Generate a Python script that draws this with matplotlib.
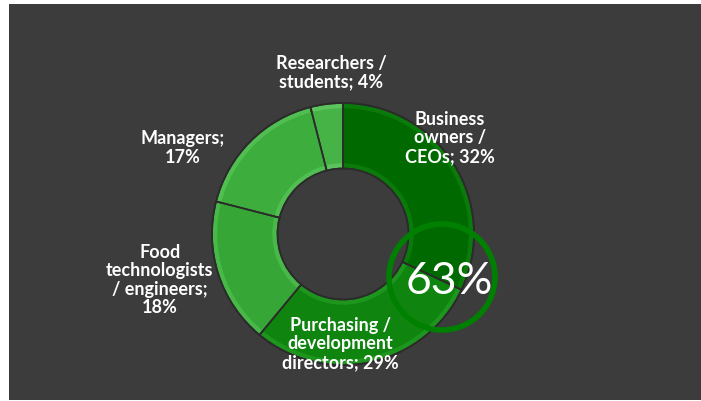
import matplotlib
matplotlib.use('Agg')
import matplotlib.pyplot as plt
from matplotlib.patches import Rectangle, Circle

# data
groups = ['Business owners / CEOs', 'Purchasing / development directors',
          'Food technologists / engineers', 'Managers', 'Researchers / students']
shares = [32, 29, 18, 17, 4]
label_text = ['Business\nowners /\nCEOs; 32%', 'Purchasing /\ndevelopment\ndirectors; 29%',
              'Food\ntechnologists\n/ engineers;\n18%', 'Managers;\n17%', 'Researchers /\nstudents; 4%']
colors = ['#006a00', '#0f840f', '#36a636', '#3dae3d', '#46b346']
rim_colors = ['#0a7a0a', '#1e961e', '#48b848', '#50be50', '#5cc45c']
highlight = '63%'

W, H = 701, 401
fig = plt.figure(figsize=(W / 100, H / 100), dpi=100)
fig.patch.set_facecolor('white')

# background panel (pixel coords)
bg = fig.add_axes([0, 0, 1, 1], zorder=0)
bg.set_xlim(0, W)
bg.set_ylim(H, 0)
bg.axis('off')
bg.add_patch(Rectangle((9, 4), W - 9, H - 5, facecolor='#3c3c3c', edgecolor='none'))

# donut: lighter rim underneath, flat face on top for a bevel look
cx, cy, R = 343, 234, 131
ax = fig.add_axes([(cx - R) / W, (H - cy - R) / H, 2 * R / W, 2 * R / H], zorder=1)
ax.pie(shares, colors=rim_colors, startangle=90, counterclock=False, radius=1,
       wedgeprops=dict(width=0.5, edgecolor='#2b2b2b', linewidth=1.2))
ax.pie(shares, colors=colors, startangle=90, counterclock=False, radius=0.96,
       wedgeprops=dict(width=0.42, edgecolor='none'))
ax.pie(shares, colors=['none'] * 5, startangle=90, counterclock=False, radius=1,
       wedgeprops=dict(width=0.5, edgecolor='#2b2b2b', linewidth=1.2))
ax.set_xlim(-1, 1)
ax.set_ylim(-1, 1)
ax.axis('off')

# overlay for labels and the highlight
top = fig.add_axes([0, 0, 1, 1], zorder=2)
top.set_xlim(0, W)
top.set_ylim(H, 0)
top.axis('off')
top.patch.set_alpha(0)

pos = [(450, 138), (340, 344), (160, 280), (183, 148), (331, 73)]
for (x, y), t in zip(pos, label_text):
    top.text(x, y, t, ha='center', va='center', color='white', fontsize=13,
             fontweight='bold', family='Lato', linespacing=1.1)

top.add_patch(Circle((442, 277), 53, facecolor='none', edgecolor='#008000', linewidth=4))
top.text(449, 281, highlight, ha='center', va='center', color='white', fontsize=32,
         family='Lato')

fig.savefig('out.png', dpi=100)
